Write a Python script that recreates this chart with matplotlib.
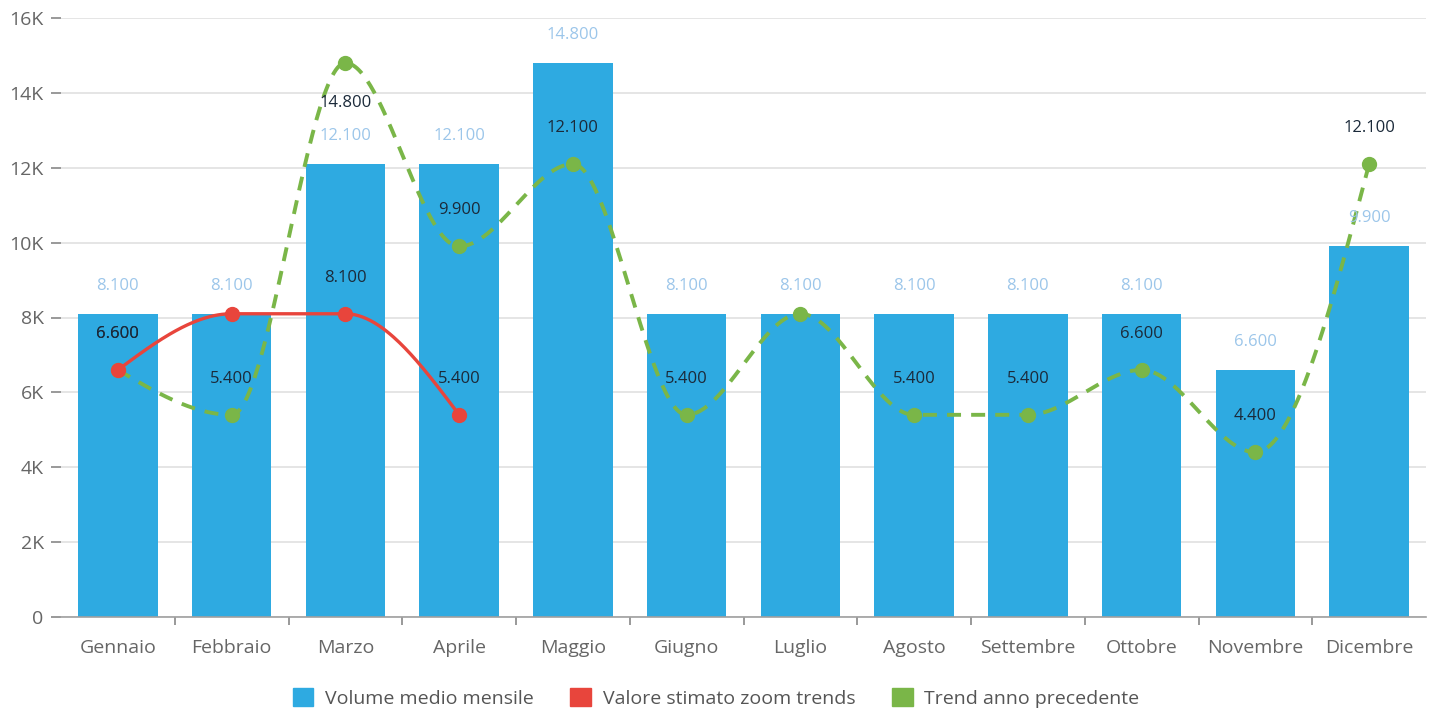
import numpy as np
import matplotlib
matplotlib.use("Agg")
import matplotlib.pyplot as plt
from matplotlib.patches import Patch

plt.rcParams['font.family'] = ['Open Sans', 'DejaVu Sans']

months = ["Gennaio", "Febbraio", "Marzo", "Aprile", "Maggio", "Giugno",
          "Luglio", "Agosto", "Settembre", "Ottobre", "Novembre", "Dicembre"]
volume = [8100, 8100, 12100, 12100, 14800, 8100, 8100, 8100, 8100, 8100, 6600, 9900]
stimato = [6600, 8100, 8100, 5400]
trend_prec = [6600, 5400, 14800, 9900, 12100, 5400, 8100, 5400, 5400, 6600, 4400, 12100]
yticks = [0, 2000, 4000, 6000, 8000, 10000, 12000, 14000, 16000]
ytick_labels = ["0", "2K", "4K", "6K", "8K", "10K", "12K", "14K", "16K"]
legend_labels = ["Volume medio mensile", "Valore stimato zoom trends", "Trend anno precedente"]

C_BAR = "#2eaae1"
C_RED = "#e8453c"
C_GREEN = "#7ab648"
C_BARLBL = "#9cc6ea"
C_DARK = "#1b2a3a"
C_AXIS = "#666666"


def fmt(v):
    return f"{v:,.0f}".replace(",", ".")


def monotone_curve(xs, ys, n=60):
    xs = np.asarray(xs, float)
    ys = np.asarray(ys, float)
    m = len(xs)
    h = np.diff(xs)
    s = np.diff(ys) / h
    t = np.zeros(m)
    for i in range(1, m - 1):
        h0, h1 = h[i - 1], h[i]
        s0, s1 = s[i - 1], s[i]
        p = (s0 * h1 + s1 * h0) / (h0 + h1)
        t[i] = (np.sign(s0) + np.sign(s1)) * min(abs(s0), abs(s1), 0.5 * abs(p))
    if m > 2:
        t[0] = (3 * s[0] - t[1]) / 2
        t[-1] = (3 * s[-1] - t[-2]) / 2
    else:
        t[0] = t[-1] = s[0]
    X, Y = [], []
    for i in range(m - 1):
        u = np.linspace(0, 1, n)
        hh = h[i]
        h00 = 2 * u**3 - 3 * u**2 + 1
        h10 = u**3 - 2 * u**2 + u
        h01 = -2 * u**3 + 3 * u**2
        h11 = u**3 - u**2
        X.append(xs[i] + u * hh)
        Y.append(h00 * ys[i] + h10 * hh * t[i] + h01 * ys[i + 1] + h11 * hh * t[i + 1])
    return np.concatenate(X), np.concatenate(Y)


fig = plt.figure(figsize=(14.32, 7.14), dpi=100)
ax = fig.add_axes([61 / 1432, 97 / 714, (1426 - 61) / 1432, (617 - 18) / 714])

x = np.arange(len(months))
ax.bar(x, volume, width=0.70, color=C_BAR, zorder=2)

# lines
gx, gy = monotone_curve(x, trend_prec)
ax.plot(gx, gy, color=C_GREEN, lw=2.8, ls=(0, (3.6, 2.6)), zorder=3)
ax.plot(x, trend_prec, 'o', color=C_GREEN, ms=10, zorder=4)
rx, ry = monotone_curve(x[:len(stimato)], stimato)
ax.plot(rx, ry, color=C_RED, lw=2.4, zorder=5)
ax.plot(x[:len(stimato)], stimato, 'o', color=C_RED, ms=10, zorder=6)

ax.set_xlim(-0.5, len(months) - 0.5)
ax.set_ylim(0, 16000)
ax.set_yticks(yticks)
ax.set_yticklabels(ytick_labels)
ax.set_xticks(x)
ax.set_xticklabels(months)
ax.set_xticks(np.arange(len(months) - 1) + 0.5, minor=True)

for sp in ["top", "right", "left"]:
    ax.spines[sp].set_visible(False)
ax.spines["bottom"].set_color("#a0a0a0")
ax.spines["bottom"].set_linewidth(1.2)
ax.grid(axis='y', color="#e0e0e0", lw=1.2, zorder=0)
ax.set_axisbelow(True)
ax.tick_params(axis='y', length=7.5, width=1.2, color="#888888", labelcolor=C_AXIS,
               labelsize=14, pad=5)
ax.tick_params(axis='x', which='major', length=0, labelcolor=C_AXIS, labelsize=14, pad=16)
ax.tick_params(axis='x', which='minor', length=6, width=1.2, color="#888888")

px_per_unit = (617 - 18) / 16000.0


def units(px):
    return px / px_per_unit


# bar labels
bar_label_pos = {}
for i, v in enumerate(volume):
    yl = v + units(28)
    bar_label_pos[i] = yl
    ax.text(i, yl, fmt(v), ha='center', va='center', fontsize=12, color=C_BARLBL, zorder=7)


def point_label(i, v):
    yl = v + units(36)
    if yl + units(10) > 16000:
        yl = v - units(40)
    if abs(yl - bar_label_pos[i]) < units(14):
        return
    ax.text(i, yl, fmt(v), ha='center', va='center', fontsize=12, color=C_DARK, zorder=8)


for i, v in enumerate(trend_prec):
    point_label(i, v)
for i, v in enumerate(stimato):
    point_label(i, v)

handles = [Patch(color=C_BAR), Patch(color=C_RED), Patch(color=C_GREEN)]
fig.legend(handles, legend_labels, loc='center', bbox_to_anchor=(0.5, 1 - 698 / 714), ncol=3,
           frameon=False, fontsize=14, labelcolor="#555555", handlelength=1.05,
           handleheight=1.05, handletextpad=0.6, columnspacing=1.9)

fig.savefig("out.png", dpi=100)
